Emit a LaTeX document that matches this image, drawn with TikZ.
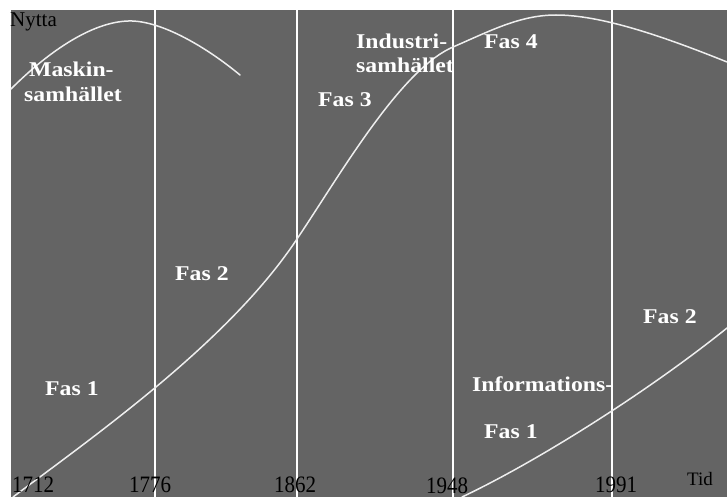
\documentclass[tikz,border=0pt]{standalone}
\usepackage{fontspec}
\setmainfont{Liberation Serif}
\definecolor{bg}{HTML}{646464}
\definecolor{curve}{HTML}{EEEEEE}
\tikzset{
  lbl/.style={text=white, font=\fontsize{21}{24}\selectfont\bfseries, inner sep=0pt, anchor=base west, xscale=1.13, transform shape},
  yr/.style={text=black, font=\fontsize{21}{24}\selectfont, inner sep=0pt, anchor=base west, yscale=1.12, transform shape},
  axl/.style={text=black, font=\fontsize{21}{24}\selectfont, inner sep=0pt, anchor=base west},
  vline/.style={draw=white, line width=2.6pt},
  crv/.style={draw=curve, line width=1.5pt, line cap=round}
}
\begin{document}
\begin{tikzpicture}[x=1pt, y=-1pt]
\useasboundingbox (0,0) rectangle (727,497);
\fill[white] (0,0) rectangle (727,497);
\fill[bg] (11,10) rectangle (727,497);
% vertical phase lines
\foreach \n/\x in {v1/155, v2/297, v3/453, v4/612} {
  \coordinate (\n t) at (\x,10);
  \coordinate (\n b) at (\x,497);
  \draw[vline] (\n t) -- (\n b);
}
% Maskinsamhallet curve
\draw[crv] (11,89) .. controls (50,50) and (95,20) .. (132,21)
                   .. controls (165,22) and (210,50) .. (240,75);
% Industrisamhallet S-curve
\draw[crv] (13,497) .. controls (100,432) and (230,340) .. (297,239)
                    .. controls (340,175) and (400,70) .. (453,47)
                    .. controls (490,31) and (520,15) .. (556,15)
                    .. controls (600,15) and (660,35) .. (727,62);
% Informationssamhallet curve
\draw[crv] (462,497) .. controls (540,460) and (650,390) .. (727,328);
% labels
\node[axl] (nytta) at (10,27) {Nytta};
\node[lbl] (m1) at (29,77) {Maskin-};
\node[lbl] (m2) at (24,102) {samhället};
\node[lbl] (i1) at (356,49) {Industri-};
\node[lbl] (i2) at (356,73) {samhället};
\node[lbl] (f4) at (484,49) {Fas 4};
\node[lbl] (f3) at (318,107) {Fas 3};
\node[lbl] (f2) at (175,280) {Fas 2};
\node[lbl] (f1) at (45,395) {Fas 1};
\node[lbl] (g2) at (643,323) {Fas 2};
\node[lbl] (inf) at (472,391) {Informations-};
\node[lbl] (g1) at (484,438) {Fas 1};
% years
\node[yr] (y1) at (12,492) {1712};
\node[yr] (y2) at (129,492) {1776};
\node[yr] (y3) at (274,492) {1862};
\node[yr] (y4) at (426,493) {1948};
\node[yr] (y5) at (595,492) {1991};
\node[axl, font=\fontsize{19}{22}\selectfont] (tid) at (687,485) {Tid};
\end{tikzpicture}
\end{document}
